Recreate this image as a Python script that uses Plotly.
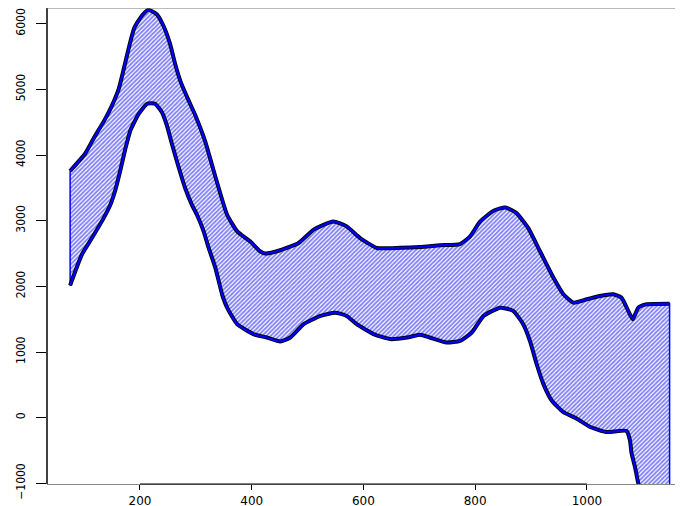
import plotly.graph_objects as go

# upper and lower bounds
upper_x = [75, 102, 117, 138, 150, 162, 171, 181, 190, 204, 215, 230, 242, 254, 263, 273,
           287, 299, 317, 329, 341, 356, 374, 397, 415, 424, 451, 484, 511, 546, 570, 594,
           624, 666, 701, 737, 773, 791, 809, 833, 854, 874, 895, 916, 937, 958, 976, 1000,
           1023, 1047, 1062, 1074, 1082, 1092, 1107, 1148]
upper_y = [3758, 4024, 4252, 4555, 4758, 5009, 5312, 5667, 5941, 6130, 6212, 6145, 5970,
           5691, 5388, 5111, 4833, 4606, 4202, 3848, 3494, 3091, 2838, 2686, 2535, 2500,
           2550, 2661, 2864, 2989, 2914, 2736, 2585, 2588, 2600, 2626, 2645, 2762, 2989,
           3152, 3202, 3115, 2888, 2535, 2182, 1879, 1752, 1803, 1853, 1879, 1827, 1626,
           1500, 1676, 1727, 1736]

lower_x = [75, 96, 114, 135, 147, 156, 165, 174, 183, 198, 213, 227, 239, 248, 257, 269,
           281, 293, 302, 314, 323, 335, 347, 356, 374, 403, 427, 451, 469, 493, 523, 549,
           570, 588, 618, 648, 678, 701, 719, 749, 773, 794, 815, 845, 868, 886, 898, 910,
           922, 937, 958, 982, 1006, 1035, 1071, 1077, 1080, 1086, 1092, 1110, 1148]
lower_y = [2015, 2485, 2736, 3039, 3242, 3470, 3773, 4100, 4379, 4630, 4782, 4782, 4656,
           4455, 4176, 3823, 3494, 3242, 3091, 2838, 2585, 2282, 1879, 1676, 1424, 1273,
           1221, 1161, 1221, 1424, 1550, 1600, 1550, 1424, 1273, 1197, 1221, 1262, 1221,
           1145, 1171, 1297, 1550, 1676, 1626, 1424, 1171, 818, 515, 262, 85, -15, -142,
           -218, -203, -345, -545, -748, -1000, -1600, -3000]

x_ticks = [200, 400, 600, 800, 1000]
y_ticks = [-1000, 0, 1000, 2000, 3000, 4000, 5000, 6000]

# closed polygon: upper left->right, lower right->left
poly_x = upper_x + lower_x[::-1] + [upper_x[0]]
poly_y = upper_y + lower_y[::-1] + [upper_y[0]]

fig = go.Figure()
fig.add_trace(go.Scatter(
    x=poly_x, y=poly_y, mode="lines", fill="toself",
    fillcolor="rgba(0,0,0,0)",
    fillpattern=dict(shape="/", fgcolor="#0000ff", bgcolor="white", size=3, solidity=0.6),
    line=dict(color="#0000ff", width=1.5),
    hoverinfo="skip", showlegend=False,
))
for xs, ys in [(upper_x, upper_y), (lower_x, lower_y)]:
    fig.add_trace(go.Scatter(x=xs, y=ys, mode="lines",
                             line=dict(color="black", width=4, shape="spline", smoothing=0.5),
                             showlegend=False))
    fig.add_trace(go.Scatter(x=xs, y=ys, mode="lines",
                             line=dict(color="#0000ff", width=2.2, shape="spline", smoothing=0.5),
                             showlegend=False))

# R style axes: black axis lines over a grey box
fig.add_shape(type="line", xref="x", yref="paper", x0=200, x1=1000, y0=0, y1=0,
              line=dict(color="black", width=1.2))
fig.add_shape(type="line", xref="paper", yref="paper", x0=0, x1=0, y0=0, y1=1,
              line=dict(color="black", width=1.5))
fig.add_shape(type="line", xref="paper", yref="paper", x0=0, x1=1, y0=1, y1=1,
              line=dict(color="#777777", width=1.2))

fig.update_xaxes(range=[33.6, 1172], tickvals=x_ticks, ticks="outside", ticklen=5,
                 tickcolor="black", showgrid=False, zeroline=False, automargin=False,
                 showline=True, linecolor="#888888", linewidth=1.2,
                 tickfont=dict(family="DejaVu Sans", size=12, color="black"))
fig.update_yaxes(range=[-1010, 6240], tickvals=y_ticks, ticks="outside", ticklen=10,
                 tickcolor="black", showgrid=False, zeroline=False, tickangle=-90,
                 ticklabelstandoff=6, automargin=False,
                 tickfont=dict(family="Liberation Sans Narrow, DejaVu Sans Condensed, sans-serif",
                               size=12, color="black"))
# page body adds an 8px margin, so the figure is made 8px smaller
fig.update_layout(width=675, height=498, margin=dict(l=39, r=0, t=0, b=22, autoexpand=False),
                  plot_bgcolor="white", paper_bgcolor="white", showlegend=False)

fig.write_html("out.html")
